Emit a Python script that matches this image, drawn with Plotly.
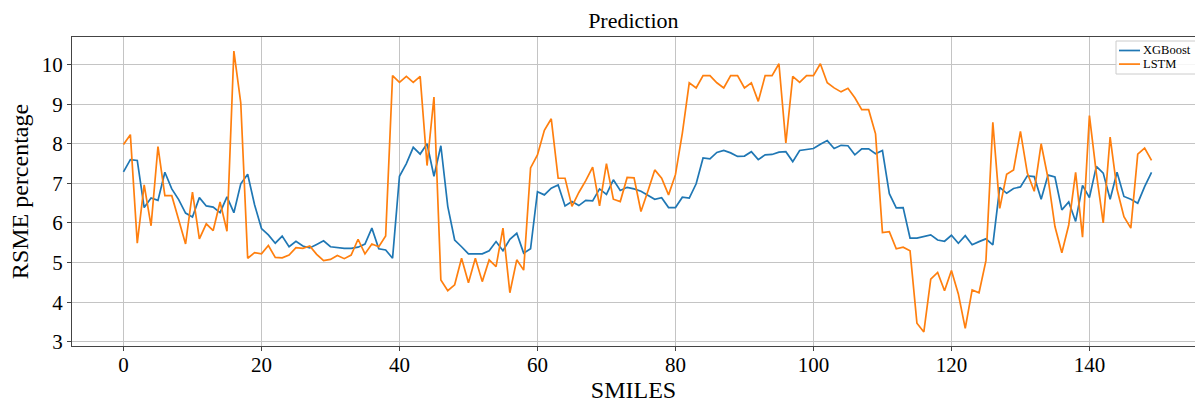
import plotly.graph_objects as go

xgboost = [7.29, 7.60, 7.58, 6.39, 6.63, 6.57, 7.28, 6.86, 6.59, 6.25,
           6.15, 6.64, 6.43, 6.40, 6.26, 6.66, 6.26, 6.99, 7.23, 6.46,
           5.86, 5.70, 5.49, 5.67, 5.40, 5.54, 5.42, 5.37, 5.46, 5.55,
           5.40, 5.38, 5.36, 5.36, 5.39, 5.47, 5.87, 5.35, 5.32, 5.11,
           7.18, 7.50, 7.91, 7.74, 8.00, 7.18, 7.95, 6.42, 5.57, 5.40,
           5.22, 5.22, 5.22, 5.30, 5.53, 5.30, 5.59, 5.74, 5.24, 5.35,
           6.79, 6.71, 6.88, 6.96, 6.43, 6.54, 6.44, 6.57, 6.56, 6.86,
           6.72, 7.09, 6.82, 6.90, 6.86, 6.80, 6.71, 6.60, 6.64, 6.39,
           6.39, 6.65, 6.63, 6.99, 7.64, 7.62, 7.78, 7.83, 7.77, 7.68,
           7.69, 7.80, 7.60, 7.72, 7.73, 7.79, 7.80, 7.55, 7.83, 7.86,
           7.88, 7.99, 8.08, 7.88, 7.96, 7.95, 7.72, 7.87, 7.87, 7.75,
           7.83, 6.74, 6.38, 6.39, 5.62, 5.62, 5.66, 5.70, 5.57, 5.54,
           5.69, 5.49, 5.68, 5.45, 5.53, 5.60, 5.45, 6.90, 6.75, 6.87,
           6.91, 7.19, 7.17, 6.60, 7.21, 7.16, 6.33, 6.53, 6.04, 6.95,
           6.64, 7.43, 7.26, 6.60, 7.28, 6.67, 6.60, 6.50, 6.92, 7.28]

lstm = [7.98, 8.23, 5.49, 6.96, 5.93, 7.93, 6.69, 6.69, 6.08, 5.47,
        6.78, 5.60, 5.98, 5.81, 6.53, 5.79, 10.34, 9.03, 5.11, 5.25,
        5.22, 5.43, 5.13, 5.12, 5.19, 5.38, 5.36, 5.42, 5.21, 5.05,
        5.08, 5.18, 5.10, 5.19, 5.59, 5.22, 5.47, 5.40, 5.67, 9.72,
        9.55, 9.70, 9.55, 9.70, 7.45, 9.18, 4.56, 4.29, 4.44, 5.11,
        4.49, 5.11, 4.52, 5.07, 4.90, 5.87, 4.24, 5.07, 4.81, 7.39,
        7.72, 8.34, 8.63, 7.13, 7.13, 6.42, 6.77, 7.07, 7.41, 6.43,
        7.50, 6.60, 6.54, 7.15, 7.14, 6.29, 6.80, 7.34, 7.13, 6.71,
        7.22, 8.27, 9.54, 9.41, 9.72, 9.72, 9.54, 9.41, 9.72, 9.72,
        9.41, 9.54, 9.07, 9.72, 9.72, 10.02, 8.02, 9.70, 9.55, 9.72,
        9.72, 10.02, 9.54, 9.41, 9.31, 9.40, 9.16, 8.86, 8.86, 8.25,
        5.76, 5.78, 5.35, 5.39, 5.30, 3.47, 3.25, 4.58, 4.75, 4.29,
        4.80, 4.21, 3.34, 4.31, 4.24, 5.05, 8.54, 6.37, 7.23, 7.34,
        8.31, 7.26, 6.80, 8.00, 7.13, 5.91, 5.25, 5.95, 7.28, 5.64,
        8.71, 7.26, 6.00, 8.17, 6.85, 6.16, 5.87, 7.74, 7.89, 7.58]

series_names = ["XGBoost", "LSTM"]
series_colors = ["#1f77b4", "#ff7f0e"]
x_vals = list(range(len(xgboost)))
x_ticks = [0, 20, 40, 60, 80, 100, 120, 140]
y_ticks = [3, 4, 5, 6, 7, 8, 9, 10]

font_family = "Liberation Serif, Times New Roman, serif"

W, H = 1195, 403
L, R, T, B = 72, 0, 37, 57
PW, PH = W - L - R, H - T - B


def px_x(p):
    return (p - L) / PW


def px_y(p):
    return (H - B - p) / PH


fig = go.Figure()
for name, vals, col in zip(series_names, [xgboost, lstm], series_colors):
    fig.add_trace(go.Scatter(x=x_vals, y=vals, mode="lines", name=name,
                             line=dict(color=col, width=1.7)))

axis_common = dict(
    showgrid=True, gridcolor="#c4c4c4", gridwidth=1,
    showline=True, linecolor="#444444", linewidth=1.2, mirror=True,
    ticks="outside", ticklen=4, tickcolor="#444444", tickwidth=1,
    zeroline=False,
    tickfont=dict(family=font_family, size=21, color="black"),
)

# legend box (drawn as shapes + text)
shapes = [dict(type="rect", xref="paper", yref="paper",
               x0=px_x(1116), x1=px_x(1205), y0=px_y(74), y1=px_y(41),
               line=dict(color="#cccccc", width=1), fillcolor="rgba(255,255,255,0.85)",
               layer="above")]
annotations = []
for k, (name, col) in enumerate(zip(series_names, series_colors)):
    yy = 50.5 + 13.6 * k
    shapes.append(dict(type="line", xref="paper", yref="paper",
                       x0=px_x(1119), x1=px_x(1140), y0=px_y(yy), y1=px_y(yy),
                       line=dict(color=col, width=1.7), layer="above"))
    annotations.append(dict(xref="paper", yref="paper", x=px_x(1142), y=px_y(yy),
                            xanchor="left", yanchor="middle", text=name, showarrow=False,
                            borderpad=0,
                            font=dict(family=font_family, size=12.5, color="black")))

fig.update_layout(
    width=W, height=H,
    margin=dict(l=L, r=R, t=T, b=B),
    paper_bgcolor="white", plot_bgcolor="white",
    font=dict(family=font_family, color="black"),
    title=dict(text="Prediction", x=0.53, xanchor="center", y=0.949, yanchor="middle",
               font=dict(family=font_family, size=22, color="black")),
    xaxis=dict(axis_common, range=[-7.46, 155.3], tickvals=x_ticks,
               ticklabelstandoff=-4,
               title=dict(text="SMILES", font=dict(family=font_family, size=24),
                          standoff=10)),
    yaxis=dict(axis_common, range=[2.895, 10.695], tickvals=y_ticks,
               title=dict(text="RSME percentage", font=dict(family=font_family, size=24),
                          standoff=6)),
    showlegend=False,
    shapes=shapes,
    annotations=annotations,
)

fig.write_html("out.html")
